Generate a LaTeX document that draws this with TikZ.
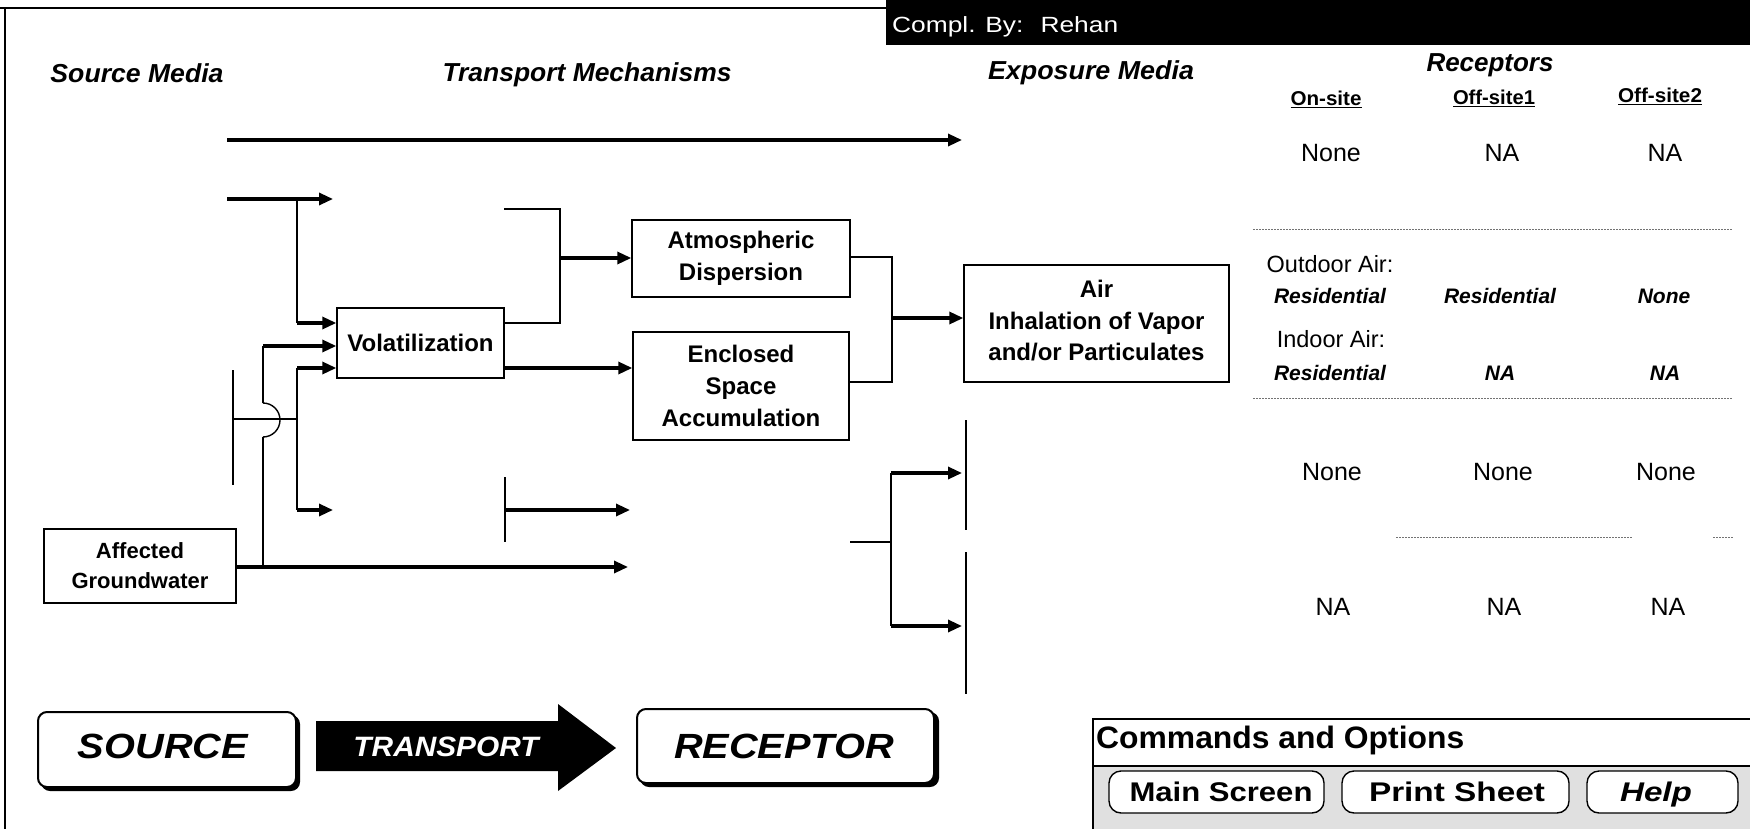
\documentclass[tikz,border=0pt]{standalone}
\usepackage{fontspec}
\setmainfont{Liberation Sans}
\usepackage{graphicx}
\usetikzlibrary{arrows.meta}
\newcommand{\fw}[2]{\resizebox{#1pt}{\height}{#2}}
\tikzset{
  hdr/.style={font=\fontsize{26}{30}\selectfont\bfseries\itshape, anchor=base, inner sep=0pt},
  colh/.style={font=\fontsize{20}{24}\selectfont\bfseries, anchor=base, inner sep=0pt},
  cell/.style={font=\fontsize{25}{30}\selectfont, anchor=base, inner sep=0pt},
  airl/.style={font=\fontsize{23.5}{28}\selectfont, anchor=base, inner sep=0pt},
  res/.style={font=\fontsize{21}{25}\selectfont\bfseries\itshape, anchor=base, inner sep=0pt},
  box/.style={draw, line width=1.4pt, fill=white, align=center, inner sep=0pt, font=\fontsize{24}{32}\selectfont\bfseries},
  conn/.style={line width=3.2pt},
  mid/.style={line width=2.4pt},
  thinl/.style={line width=1.4pt},
  arr/.style={line width=3.2pt, -{Triangle[length=14pt,width=12pt]}},
  rbox/.style={draw, fill=white, rounded corners=9pt, line width=2pt, inner sep=0pt},
  big/.style={font=\fontsize{35}{40}\selectfont\bfseries\itshape, anchor=base, inner sep=0pt},
  btn/.style={draw, fill=white, rounded corners=12pt, line width=1.4pt, inner sep=0pt},
  btnt/.style={font=\fontsize{27}{30}\selectfont\bfseries, anchor=base, inner sep=0pt},
  sep/.style={black!55, line width=0.9pt, dash pattern=on 1.5pt off 1.5pt},
}
\begin{document}
\begin{tikzpicture}[x=1pt,y=-1pt]
\useasboundingbox (0,0) rectangle (1750,829);
\fill[white] (0,0) rectangle (1750,829);

% frame
\coordinate (fa) at (0,8); \coordinate (fb) at (886,8);
\coordinate (fc) at (5,8); \coordinate (fd) at (5,829);
\draw[line width=1.2pt] (fa) -- (fb);
\draw[line width=1.2pt] (fc) -- (fd);

% header bar
\node[fill=black, inner sep=0pt, minimum width=864pt, minimum height=45pt, anchor=north west] (bar) at (886,0) {};
\node[font=\fontsize{22}{26}\selectfont, text=white, anchor=base west, inner sep=0pt] (compl) at (892,33) {\fw{226}{Compl. By:~ Rehan}};

% column headers
\node[hdr] (hsrc) at (137,83) {\fw{173}{Source Media}};
\node[hdr] (htr) at (587,82) {\fw{289}{Transport Mechanisms}};
\node[hdr] (hexp) at (1091,80) {\fw{206}{Exposure Media}};
\node[hdr] (hrec) at (1490,72) {\fw{127}{Receptors}};
\node[colh] (c1) at (1326,106) {\underline{\fw{71}{On-site}}};
\node[colh] (c2) at (1494,105) {\underline{\fw{82}{Off-site1}}};
\node[colh] (c3) at (1660,103) {\underline{\fw{84}{Off-site2}}};

% receptor rows
\node[cell] (r1a) at (1331,162) {None};
\node[cell] (r1b) at (1502,162) {NA};
\node[cell] (r1c) at (1665,162) {NA};
\draw[sep] (1253,229) -- (1733,229);
\node[airl] (outd) at (1330,272) {Outdoor Air:};
\node[res] (r2a) at (1330,303) {Residential};
\node[res] (r2b) at (1500,303) {Residential};
\node[res] (r2c) at (1664,303) {None};
\node[airl] (ind) at (1331,347) {Indoor Air:};
\node[res] (r3a) at (1330,380) {Residential};
\node[res] (r3b) at (1500,380) {NA};
\node[res] (r3c) at (1665,380) {NA};
\draw[sep] (1253,398) -- (1733,398);
\node[cell] (r4a) at (1332,480) {None};
\node[cell] (r4b) at (1503,480) {None};
\node[cell] (r4c) at (1666,480) {None};
\draw[sep] (1396,537) -- (1632,537);
\draw[sep] (1713,537) -- (1733,537);
\node[cell] (r5a) at (1333,615) {NA};
\node[cell] (r5b) at (1504,615) {NA};
\node[cell] (r5c) at (1668,615) {NA};

% boxes
\node[box, minimum width=167pt, minimum height=70pt] (vol) at (420.5,343) {Volatilization};
\node[box, minimum width=218pt, minimum height=77pt] (atm) at (741,258.5) {Atmospheric\\Dispersion};
\node[box, minimum width=216pt, minimum height=108pt] (enc) at (741,386) {Enclosed\\Space\\Accumulation};
\node[box, minimum width=265pt, minimum height=117pt, font=\fontsize{24}{31.5}\selectfont\bfseries] (air) at (1096.5,323.5) {Air\\Inhalation of Vapor\\and/or Particulates\rule[-6pt]{0pt}{1pt}};
\node[box, minimum width=192pt, minimum height=74pt, font=\fontsize{22}{30}\selectfont\bfseries] (gw) at (140,566) {Affected\\Groundwater};

% top arrow
\coordinate (ta) at (227,140); \coordinate (tb) at (962,140);
\draw[arr] (ta) -- (tb);

% second row
\coordinate (sa) at (227,199); \coordinate (sb) at (333,199);
\coordinate (sj) at (297,199); \coordinate (sk) at (297,323);
\draw[arr] (sa) -- (sb);
\draw[mid] (sj) -- (sk);
\draw[arr] (sk) -- (sk -| vol.west);

% lower branch at x=297
\coordinate (la) at (297,368); \coordinate (lb) at (297,510); \coordinate (lc) at (333,510);
\draw[mid] (lb) -- (la);
\draw[arr] (la) -- (la -| vol.west);
\draw[arr] (lb) -- (lc);

% hop line at x=263
\coordinate (ha) at (263,346); \coordinate (hb) at (263,403);
\coordinate (hc) at (263,437); \coordinate (hd) at (263,567);
\draw[mid] (hb) -- (ha);
\draw[arr] (ha) -- (ha -| vol.west);
\draw[thinl] (hb) arc (90:-90:17pt);
\draw[mid] (hc) -- (hd);

% groundwater line
\coordinate (ge) at (628,567);
\draw[arr] (gw.east |- ge) -- (ge);

% left vertical x=233
\coordinate (va) at (233,370); \coordinate (vb) at (233,485);
\coordinate (vc) at (233,419); \coordinate (vd) at (297,419);
\draw[thinl] (va) -- (vb);
\draw[mid] (vc) -- (vd);

% volatilization outputs
\coordinate (oa) at (504,209); \coordinate (ob) at (560,209);
\coordinate (oc) at (560,323); \coordinate (od) at (560,258);
\draw[mid] (vol.east |- oc) -- (oc) -- (ob) -- (oa);
\draw[arr] (od) -- (od -| atm.west);
\coordinate (ec) at (560,368);
\draw[arr] (vol.east |- ec) -- (ec -| enc.west);

% vertical at x=505
\coordinate (pa) at (505,477); \coordinate (pb) at (505,542);
\coordinate (pc) at (505,510); \coordinate (pd) at (630,510);
\draw[mid] (pa) -- (pb);
\draw[arr] (pc) -- (pd);

% merge into air
\coordinate (ra) at (892,257); \coordinate (rb) at (892,382); \coordinate (rc) at (892,318);
\draw[mid] (atm.east |- ra) -- (ra) -- (rb) -- (enc.east |- rb);
\draw[arr] (rc) -- (rc -| air.west);

% lower right fork
\coordinate (qs) at (850,542); \coordinate (qc) at (891,542);
\coordinate (qa) at (891,473); \coordinate (qb) at (891,626);
\coordinate (qt) at (962,473); \coordinate (qu) at (962,626);
\draw[thinl] (qs) -- (qc);
\draw[mid] (qa) -- (qb);
\draw[arr] (qa) -- (qt);
\draw[arr] (qb) -- (qu);

% exposure vertical line
\coordinate (ea) at (966,420); \coordinate (eb) at (966,530);
\coordinate (ee) at (966,552); \coordinate (ef) at (966,694);
\draw[thinl] (ea) -- (eb);
\draw[thinl] (ee) -- (ef);

% SOURCE -> TRANSPORT -> RECEPTOR
\fill[rounded corners=9pt] (41,715) rectangle (300,791);
\node[rbox, minimum width=258pt, minimum height=75pt] (src) at (167,749.5) {};
\node[big] (srct) at (163,758) {\fw{170}{SOURCE}};
\fill (316,721) -- (558,721) -- (558,704) -- (616,748) -- (558,791) -- (558,771) -- (316,771) -- cycle;
\node[font=\fontsize{28}{32}\selectfont\bfseries\itshape, text=white, anchor=base, inner sep=0pt] (trt) at (446,756) {\fw{185}{TRANSPORT}};
\fill[rounded corners=9pt] (640,712) rectangle (939,787);
\node[rbox, minimum width=297pt, minimum height=74pt] (rec) at (785.5,746) {};
\node[big] (rect) at (784,758) {\fw{220}{RECEPTOR}};

% commands and options
\fill[black!12] (1092,766) rectangle (1750,829);
\node[draw, line width=1.5pt, minimum width=660pt, minimum height=113pt, anchor=north west, inner sep=0pt] (cmd) at (1092,718) {};
\coordinate (cl) at (1092,766); \coordinate (cr) at (1750,766);
\draw[line width=2pt] (cl) -- (cr);
\node[font=\fontsize{31}{34}\selectfont\bfseries, anchor=base west, inner sep=0pt] (cmdt) at (1096,748) {\fw{368}{Commands and Options}};
\node[btn, minimum width=215pt, minimum height=42pt] (b1) at (1216.5,792) {};
\node[btnt] (b1t) at (1221,801) {\fw{183}{Main Screen}};
\node[btn, minimum width=227pt, minimum height=42pt] (b2) at (1455.5,792) {};
\node[btnt] (b2t) at (1457,801) {\fw{176}{Print Sheet}};
\node[btn, minimum width=151pt, minimum height=42pt] (b3) at (1662.5,792) {};
\node[btnt, font=\fontsize{27}{30}\selectfont\bfseries\itshape] (b3t) at (1656,801) {\fw{72}{Help}};
\end{tikzpicture}
\end{document}
